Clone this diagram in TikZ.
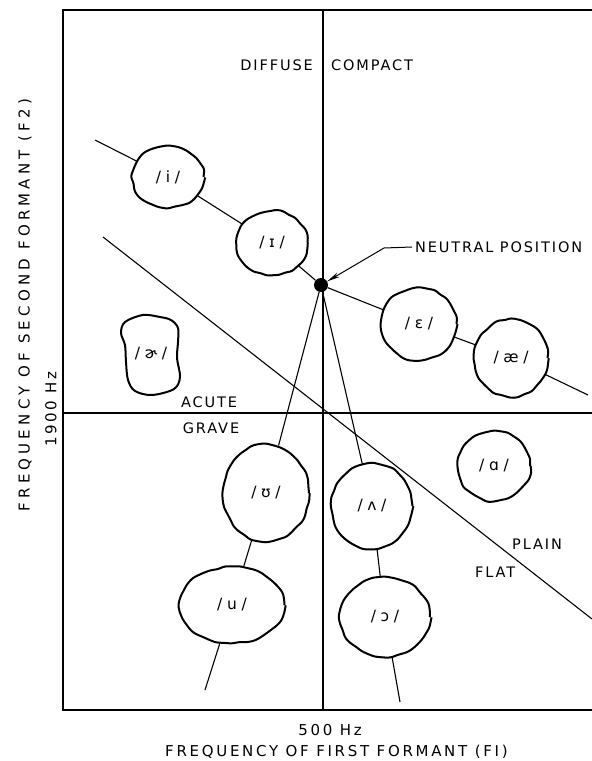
\documentclass[tikz,border=0pt]{standalone}
\usepackage{fontspec}
\setmainfont{DejaVu Sans}
\newfontfamily\lblfont[LetterSpace=13]{DejaVu Sans}
\newfontfamily\xaxisfont[LetterSpace=18]{DejaVu Sans}
\newfontfamily\yaxisfont[LetterSpace=28]{DejaVu Sans}
\newfontfamily\ipafont[LetterSpace=30]{DejaVu Sans}
\usetikzlibrary{decorations.pathmorphing,shapes.geometric,arrows.meta,backgrounds}

\begin{document}
\begin{tikzpicture}[x=1pt,y=-1pt,
  lbl/.style={inner sep=0pt, font=\lblfont\fontsize{14.5}{16}\selectfont},
  xaxislbl/.style={inner sep=0pt, font=\xaxisfont\fontsize{15}{16}\selectfont},
  yaxislbl/.style={inner sep=0pt, font=\yaxisfont\fontsize{15}{16}\selectfont},
  wobble/.style={line width=2pt, decorate,
    decoration={random steps, segment length=7pt, amplitude=1.1pt},
    rounded corners=2.5pt},
  vowel/.style={ellipse, draw, fill=white, inner sep=0pt, wobble,
    font=\ipafont\fontsize{15.5}{16}\selectfont},
  conn/.style={line width=1.1pt},
  axisline/.style={line width=1.8pt},
  frameline/.style={line width=2.4pt}]
\pgfmathsetseed{4711}
\useasboundingbox (0,0) rectangle (592,761);

% vowel regions
\node[vowel, minimum width=71pt, minimum height=61pt] (i)  at (168,177) {/i/};
\node[vowel, minimum width=71pt, minimum height=64pt] (I)  at (272,243) {/ɪ/};
\node[vowel, minimum width=75pt, minimum height=72pt] (e)  at (419,324) {/ɛ/};
\node[vowel, minimum width=73pt, minimum height=77pt] (ae) at (511,358) {/æ/};
\node[vowel, minimum width=86pt, minimum height=97pt] (U)  at (266,493) {/ʊ/};
\node[vowel, minimum width=81pt, minimum height=85pt] (wedge) at (372,506) {/ʌ/};
\node[vowel, minimum width=72pt, minimum height=70pt] (a)  at (494,466) {/ɑ/};
\node[vowel, minimum width=105pt, minimum height=76pt] (u) at (232,605) {/u/};
\node[vowel, minimum width=90pt, minimum height=79pt] (o)  at (385,617) {/ɔ/};

% the r-coloured vowel; its squarer outline is drawn behind it below
\node[inner sep=0pt, font=\ipafont\fontsize{15.5}{16}\selectfont] (er) at (151,354) {/ɚ/};

% neutral position
\node[circle, fill=black, minimum size=14pt, inner sep=0pt] (np) at (321,285) {};

% free ends of the vowel lines
\coordinate (fstart) at (95,140);
\coordinate (fend) at (588,395);
\coordinate (ubot) at (205,690);
\coordinate (obot) at (400,702);

\begin{scope}[on background layer]
  % frame, open on the right
  \draw[frameline] (592,10) -- (63,10) -- (63,710) -- (592,710);
  % 500 Hz and 1900 Hz divisions
  \draw[axisline] (323,10) -- (323,710);
  \draw[axisline] (63,413) -- (592,413);
  % plain / flat boundary
  \draw[conn] (103,237) -- (592,619);
  % outline of the r-coloured vowel
  \draw[line width=2pt, fill=white] plot[smooth cycle, tension=0.55] coordinates {
    (125,322) (143,315) (160,317) (171,320) (178,328) (178,342) (177,358)
    (180,377) (174,389) (152,395) (135,391) (128,380) (126,362) (125,345) (121,333)};
\end{scope}

% vowel lines
\draw[conn] (fstart) -- (i);
\draw[conn] (i) -- (I);
\draw[conn] (I) -- (np);
\draw[conn] (np) -- (e);
\draw[conn] (e) -- (ae);
\draw[conn] (ae) -- (fend);
\draw[conn] (np) -- (U);
\draw[conn] (np) -- (wedge);
\draw[conn] (U) -- (u);
\draw[conn] (u) -- (ubot);
\draw[conn] (wedge) -- (o);
\draw[conn] (o) -- (obot);

% labels
\node[lbl, anchor=east] (diffuse) at (313,65) {DIFFUSE};
\node[lbl, anchor=west] (compact) at (331,65) {COMPACT};
\node[lbl] (acute) at (209,402) {ACUTE};
\node[lbl] (grave) at (211,428) {GRAVE};
\node[lbl, anchor=west] (plain) at (512,544) {PLAIN};
\node[lbl, anchor=west] (flat) at (475,572) {FLAT};
\node[lbl, anchor=west] (neutral) at (415,247) {NEUTRAL POSITION};
\coordinate (bend) at (384,248);
\draw[line width=1pt, -{Stealth[length=13pt,width=5pt]}] ([xshift=-3pt]neutral.west) -- (bend) -- (np);

% axis titles
\node[xaxislbl] (hz500) at (330,730) {500 Hz};
\node[xaxislbl, anchor=west] (xtitle) at (165,752) {FREQUENCY OF FIRST FORMANT (FI)};
\node[yaxislbl, rotate=90] (ytitle) at (25,305) {FREQUENCY OF SECOND FORMANT (F2)};
\node[xaxislbl, rotate=90] (hz1900) at (51,409) {1900 Hz};
\end{tikzpicture}
\end{document}
